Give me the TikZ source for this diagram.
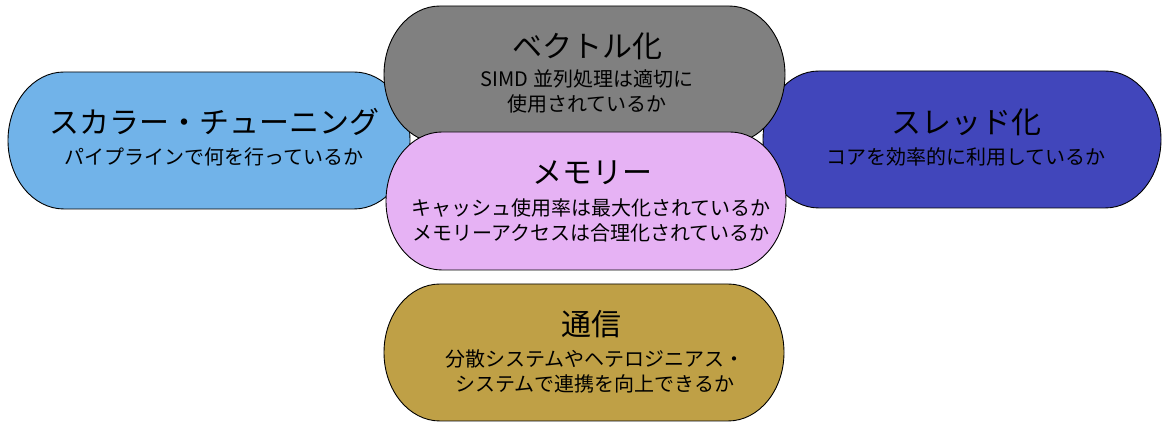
\documentclass[tikz,border=0pt]{standalone}
\usepackage{fontspec}
\setmainfont{Noto Sans CJK JP}
\definecolor{cBlue}{RGB}{113,179,233}
\definecolor{cGray}{RGB}{128,128,128}
\definecolor{cNavy}{RGB}{65,70,187}
\definecolor{cPink}{RGB}{230,178,244}
\definecolor{cGold}{RGB}{191,160,70}
\newcommand{\pillshape}[5]{%
  \pgfmathsetmacro\pillXL{#1+56}%
  \pgfmathsetmacro\pillXR{#3-56}%
  \pgfmathsetmacro\pillYT{422-#2}%
  \pgfmathsetmacro\pillYB{422-#4}%
  \pgfmathsetmacro\pillRad{(#4-#2)/2}%
  \draw[pill,fill=#5] (\pillXL pt,\pillYT pt) -- (\pillXR pt,\pillYT pt)
    arc[start angle=90,end angle=-90,x radius=56pt,y radius=\pillRad pt]
    -- (\pillXL pt,\pillYB pt)
    arc[start angle=270,end angle=90,x radius=56pt,y radius=\pillRad pt] -- cycle;}
\begin{document}
\begin{tikzpicture}[x=1pt,y=1pt,
  pill/.style={draw=black,line width=0.9pt},
  ttl/.style={inner sep=0pt,font=\fontsize{30}{34}\selectfont,text=black},
  sub/.style={inner sep=0pt,align=center,font=\fontsize{20}{25}\selectfont,text=black}]
\useasboundingbox (0,0) rectangle (1162,422);
\pillshape{8}{72}{410}{209}{cBlue}
\pillshape{763}{71}{1161}{208}{cNavy}
\pillshape{384}{6}{785}{143}{cGray}
\pillshape{386}{132}{786}{270}{cPink}
\pillshape{384}{284}{784}{421}{cGold}
% scalar
\node[ttl] (t1) at (214,422-122) {スカラー・チューニング};
\node[sub] (s1) at (214,422-157) {パイプラインで何を行っているか};
% vector
\node[ttl] (t2) at (587,422-46) {ベクトル化};
\node[sub] (s2) at (587,422-91.5) {SIMD 並列処理は適切に\\使用されているか};
% thread
\node[ttl] (t3) at (966,422-122) {スレッド化};
\node[sub] (s3) at (966,422-157) {コアを効率的に利用しているか};
% memory
\node[ttl] (t4) at (592,422-173) {メモリー};
\node[sub] (s4) at (591,422-220.5) {キャッシュ使用率は最大化されているか\\メモリーアクセスは合理化されているか};
% communication
\node[ttl] (t5) at (591,422-324) {通信};
\node[sub] (s5) at (595,422-371) {分散システムやヘテロジニアス・\\システムで連携を向上できるか};
\end{tikzpicture}
\end{document}
